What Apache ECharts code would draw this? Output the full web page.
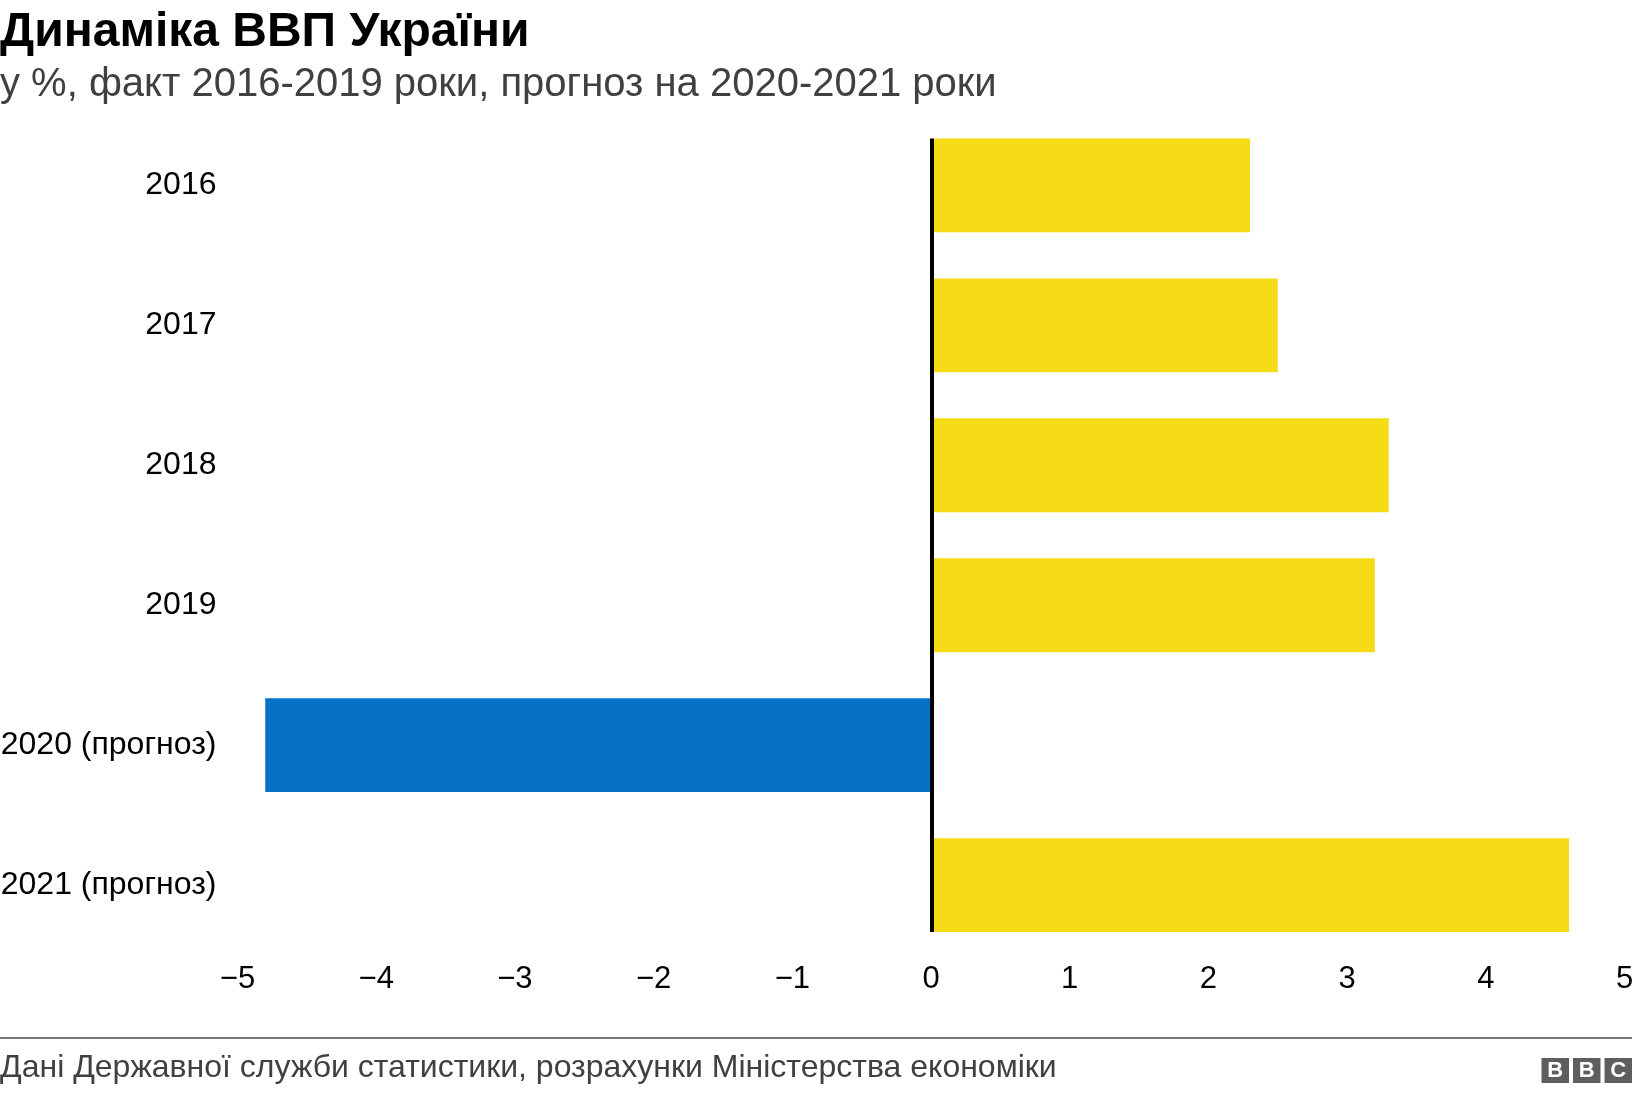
<!DOCTYPE html>
<html>
<head>
<meta charset="utf-8">
<script src="https://cdn.jsdelivr.net/npm/echarts@6/dist/echarts.min.js"></script>
<style>
html,body{margin:0;padding:0;background:#fff;}
#chart{width:1632px;height:1094px;}
</style>
</head>
<body>
<div id="chart"></div>
<script>
const titleText = 'Динаміка ВВП України';
const subtitleText = 'у %, факт 2016-2019 роки, прогноз на 2020-2021 роки';
const sourceText = 'Дані Державної служби статистики, розрахунки Міністерства економіки';
const categories = ['2016', '2017', '2018', '2019', '2020 (прогноз)', '2021 (прогноз)'];
const gdpValues = [2.3, 2.5, 3.3, 3.2, -4.8, 4.6];
const xTicks = [-5, -4, -3, -2, -1, 0, 1, 2, 3, 4, 5];

const FONT = '"Liberation Sans", Arial, Helvetica, sans-serif';
const POS = '#f6dc16', NEG = '#0571c7';
const GAP = 0.33;

const chart = echarts.init(document.getElementById('chart'), null, {renderer: 'canvas'});
chart.setOption({
  animation: false,
  backgroundColor: '#fff',
  title: [{
    text: titleText, left: 0, top: 9, padding: 0,
    textStyle: {fontFamily: FONT, fontSize: 48, fontWeight: 'bold', color: '#000'}
  }, {
    text: subtitleText, left: 0, top: 65, padding: 0,
    textStyle: {fontFamily: FONT, fontSize: 40, fontWeight: 'normal', color: '#404040'}
  }],
  grid: {left: 237.5, right: 7.5, top: 115.3, bottom: 138.8, containLabel: false, outerBoundsMode: 'none'},
  xAxis: {
    type: 'value', min: xTicks[0], max: xTicks[xTicks.length - 1], interval: 1,
    axisLine: {show: false}, axisTick: {show: false}, splitLine: {show: false},
    axisLabel: {
      fontFamily: FONT, fontSize: 31, color: '#000', margin: 9,
      formatter: v => v < 0 ? '\u2212' + Math.abs(v) : String(v)
    }
  },
  yAxis: {
    type: 'category', data: categories, inverse: true,
    axisLine: {show: false}, axisTick: {show: false},
    axisLabel: {fontFamily: FONT, fontSize: 32, color: '#000', margin: 21, padding: [4, 0, 0, 0]}
  },
  series: [{
    type: 'bar',
    data: gdpValues,
    barCategoryGap: (GAP * 100) + '%',
    itemStyle: {color: p => p.value < 0 ? NEG : POS}
  }, {
    type: 'custom',
    z: 10,
    data: [[0, 0]],
    encode: {x: 0, y: 1},
    renderItem: function (params, api) {
      const top = api.coord([0, 0]);
      const bot = api.coord([0, categories.length - 1]);
      const band = api.size([0, 1])[1];
      const half = band * (1 - GAP) / 2;
      return {
        type: 'line',
        shape: {x1: top[0] + 1, y1: top[1] - half, x2: bot[0] + 1, y2: bot[1] + half},
        style: {stroke: '#000', lineWidth: 4}
      };
    }
  }],
  graphic: [{
    type: 'line', shape: {x1: 0, y1: 1038, x2: 1632, y2: 1038},
    style: {stroke: '#767676', lineWidth: 2}
  }, {
    type: 'text', left: 0, top: 1052,
    style: {text: sourceText, font: '32px ' + FONT, fill: '#404040'}
  }, {
    type: 'group', right: 0, top: 1058,
    children: [
      {type: 'rect', shape: {x: 0, y: 0, width: 27.5, height: 25}, style: {fill: '#5e5e5e'}},
      {type: 'rect', shape: {x: 31.5, y: 0, width: 27.5, height: 25}, style: {fill: '#5e5e5e'}},
      {type: 'rect', shape: {x: 63, y: 0, width: 27.5, height: 25}, style: {fill: '#5e5e5e'}},
      {type: 'text', x: 13.75, y: 13, style: {text: 'B', font: 'bold 22px ' + FONT, fill: '#fff', align: 'center', verticalAlign: 'middle'}},
      {type: 'text', x: 45.25, y: 13, style: {text: 'B', font: 'bold 22px ' + FONT, fill: '#fff', align: 'center', verticalAlign: 'middle'}},
      {type: 'text', x: 76.75, y: 13, style: {text: 'C', font: 'bold 22px ' + FONT, fill: '#fff', align: 'center', verticalAlign: 'middle'}}
    ]
  }]
});
</script>
</body>
</html>
